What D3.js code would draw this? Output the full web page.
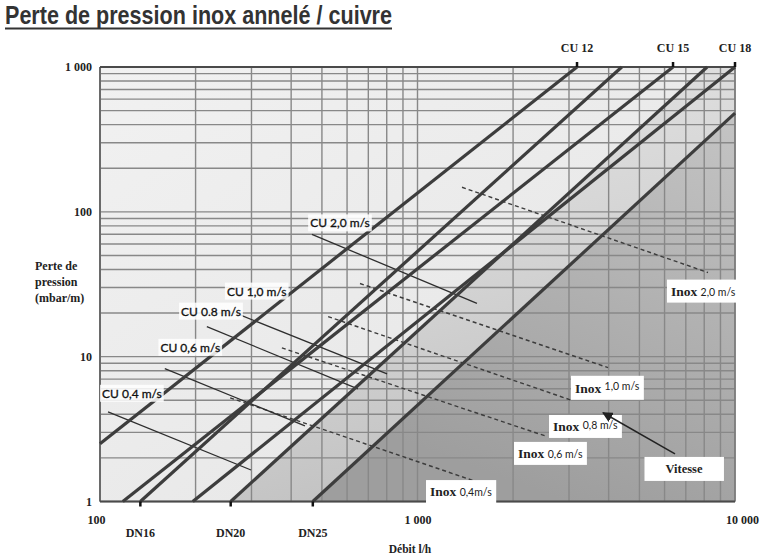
<!DOCTYPE html>
<html>
<head>
<meta charset="utf-8">
<script src="https://cdn.jsdelivr.net/npm/d3@7"></script>
<style>
  body { margin: 0; background: #ffffff; }
  svg { display: block; }
</style>
</head>
<body>
<div id="chart"></div>
<script>
'use strict'

/****** DATA ******/

const TITLE = 'Perte de pression inox annelé / cuivre'

const xTicks = [100, 1000, 10000] // Débit l/h
const yTicks = [1, 10, 100, 1000] // mbar/m

const topLabels = ['CU 12', 'CU 15', 'CU 18']
const topTickQ = [3180, 6380, 10000]
const bottomLabels = ['DN16', 'DN20', 'DN25']
const bottomTickQ = [134, 258, 468]

// pipe curves: [Q start, P start, Q end, P end]
const pipeLines = [
  [100, 2.5, 3180, 1000],   // CU 12
  [118, 1, 6380, 1000],     // CU 15
  [196, 1, 10000, 1000],    // CU 18
  [134, 1, 4400, 1000],     // DN16
  [258, 1, 8170, 1000],     // DN20
  [468, 1, 10000, 480]      // DN25
]

// copper velocity lines
const cuSpeedLabels = ['CU 0,4 m/s', 'CU 0,6 m/s', 'CU 0.8 m/s', 'CU 1,0 m/s', 'CU 2,0 m/s']
const cuSpeedLines = [
  [106, 4.16, 299, 1.65],
  [160, 8.26, 442, 3.33],
  [217, 16.1, 649, 6.0],
  [270, 19.8, 802, 7.6],
  [465, 69.9, 1539, 23.3]
]
const cuLabelAt = [[101.5, 5.2], [155, 10.8], [180, 19.2], [251, 26.4], [459, 78.1]]

// inox velocity lines (dashed)
const inoxSpeedLabels = ['0,4m/s', '0,6 m/s', '0,8 m/s', '1,0 m/s', '2,0 m/s']
const inoxSpeedLines = [
  [257, 5.2, 1754, 1.24],
  [374, 11.5, 2521, 2.84],
  [523, 18.9, 3089, 4.96],
  [659, 32.0, 3981, 8.4],
  [1381, 147.8, 8222, 38.1]
]
const inoxLabelAt = [[1095, 1.09], [2073, 2.0], [2672, 3.07], [3133, 5.63], [6286, 26.4]]

const vitesseAt = [6908, 1.575]
const vitesseArrow = [6471, 2.13, 3840, 4.10]

/****** SETUP ******/

const W = 768, H = 558
const margin = {top: 67, right: 33, bottom: 57, left: 100}
const serif = "'Liberation Serif', 'DejaVu Serif', serif"
const sans = "Lato, 'Open Sans', sans-serif"

const svg = d3.select('#chart').append('svg')
  .attr('width', W)
  .attr('height', H)

const x = d3.scaleLog().domain([100, 10000]).range([margin.left, W - margin.right])
const y = d3.scaleLog().domain([1, 1000]).range([H - margin.bottom + 0.5, margin.top])

const fmt = d => d3.format(',')(d).replace(/,/g, ' ')

// gradients
const defs = svg.append('defs')
function grad(id, x1, y1, x2, y2, stops) {
  const g = defs.append('linearGradient').attr('id', id)
    .attr('x1', x1).attr('y1', y1).attr('x2', x2).attr('y2', y2)
  stops.forEach(s => g.append('stop').attr('offset', s[0]).attr('stop-color', s[1]))
}
grad('bg', 0, 0, 1, 1, [[0, '#f1f1f1'], [1, '#e4e4e4']])
grad('mid', 0, 0, 0.3, 1, [[0, '#e6e6e6'], [0.5, '#d6d6d6'], [1, '#c2c2c2']])
grad('dark', 1, 0, 0.6, 1, [[0, '#c4c4c4'], [1, '#9e9e9e']])

/****** TITLE ******/

svg.append('text')
  .attr('x', 5)
  .attr('y', 24)
  .attr('textLength', 387)
  .attr('lengthAdjust', 'spacingAndGlyphs')
  .attr('font-family', "'Liberation Sans', Arial, sans-serif")
  .attr('font-weight', 'bold')
  .attr('font-size', 26)
  .attr('fill', '#333')
  .text(TITLE)

svg.append('line')
  .attr('x1', 5).attr('x2', 392)
  .attr('y1', 28.5).attr('y2', 28.5)
  .attr('stroke', '#333')
  .attr('stroke-width', 2)

/****** PLOT AREA ******/

const line = d3.line().x(d => x(d[0])).y(d => y(d[1]))

svg.append('rect')
  .attr('x', x(100)).attr('y', y(1000))
  .attr('width', x(10000) - x(100))
  .attr('height', y(1) - y(1000))
  .attr('fill', 'url(#bg)')

// shaded region right of DN20 and below DN25
const dn20 = pipeLines[4], dn25 = pipeLines[5]
svg.append('path')
  .attr('d', line([[dn20[0], dn20[1]], [dn20[2], dn20[3]], [10000, 1000], [10000, 1]]) + 'Z')
  .attr('fill', 'url(#mid)')
svg.append('path')
  .attr('d', line([[dn25[0], dn25[1]], [dn25[2], dn25[3]], [10000, 1]]) + 'Z')
  .attr('fill', 'url(#dark)')

// grid
const grid = svg.append('g')
  .attr('stroke', '#888')
  .attr('stroke-width', 1.4)
grid.selectAll('.gx')
  .data(x.ticks())
  .join('line')
    .attr('x1', d => x(d)).attr('x2', d => x(d))
    .attr('y1', y(1000)).attr('y2', y(1))
grid.selectAll('.gy')
  .data(y.ticks())
  .join('line')
    .attr('x1', x(100)).attr('x2', x(10000))
    .attr('y1', d => y(d)).attr('y2', d => y(d))

// frame
svg.append('line').attr('x1', x(100)).attr('x2', x(100)).attr('y1', y(1000)).attr('y2', y(1))
  .attr('stroke', '#6a6a6a').attr('stroke-width', 2)
svg.append('line').attr('x1', x(10000)).attr('x2', x(10000)).attr('y1', y(1000)).attr('y2', y(1))
  .attr('stroke', '#7a7a7a').attr('stroke-width', 1.5)
svg.append('line').attr('x1', x(100)).attr('x2', x(10000)).attr('y1', y(1000)).attr('y2', y(1000))
  .attr('stroke', '#4a4a4a').attr('stroke-width', 2)
svg.append('line').attr('x1', x(100)).attr('x2', x(10000)).attr('y1', y(1)).attr('y2', y(1))
  .attr('stroke', '#4a4a4a').attr('stroke-width', 2)

/****** VELOCITY LINES ******/

svg.append('g').selectAll('path')
  .data(inoxSpeedLines)
  .join('path')
    .attr('d', d => line([[d[0], d[1]], [d[2], d[3]]]))
    .attr('fill', 'none')
    .attr('stroke', '#3c3c3c')
    .attr('stroke-width', 1.4)
    .attr('stroke-dasharray', '4,3')

svg.append('g').selectAll('path')
  .data(cuSpeedLines)
  .join('path')
    .attr('d', d => line([[d[0], d[1]], [d[2], d[3]]]))
    .attr('fill', 'none')
    .attr('stroke', '#2e2e2e')
    .attr('stroke-width', 1.3)

/****** PIPE LINES ******/

svg.append('g').selectAll('path')
  .data(pipeLines)
  .join('path')
    .attr('d', d => line([[d[0], d[1]], [d[2], d[3]]]))
    .attr('fill', 'none')
    .attr('stroke', '#3d3d3d')
    .attr('stroke-width', 3.2)

/****** LABELS WITH BOXES ******/

function boxed(g, padX, padY, opacity) {
  const b = g.select('text').node().getBBox()
  g.insert('rect', 'text')
    .attr('x', b.x - padX).attr('y', b.y - padY)
    .attr('width', b.width + 2 * padX).attr('height', b.height + 2 * padY)
    .attr('fill', '#fff')
    .attr('fill-opacity', opacity)
}

cuSpeedLabels.forEach((lab, i) => {
  const g = svg.append('g')
  g.append('text')
    .attr('x', x(cuLabelAt[i][0]))
    .attr('y', y(cuLabelAt[i][1]))
    .attr('font-family', sans)
    .attr('font-size', 12)
    .attr('fill', '#111')
    .attr('stroke', '#111')
    .attr('stroke-width', 0.3)
    .text(lab)
  boxed(g, 2, 1, 0.85)
})

inoxSpeedLabels.forEach((lab, i) => {
  const g = svg.append('g')
  const t = g.append('text')
    .attr('x', x(inoxLabelAt[i][0]))
    .attr('y', y(inoxLabelAt[i][1]))
    .attr('fill', '#222')
  t.append('tspan')
    .attr('font-family', serif)
    .attr('font-weight', 'bold')
    .attr('font-size', 13.5)
    .text(i >= 3 ? 'Inox  ' : 'Inox ')
  t.append('tspan')
    .attr('font-family', sans)
    .attr('font-size', 10.5)
    .attr('dy', i === 3 ? -3 : i === 2 ? -2 : 0)
    .text(lab)
  boxed(g, 4, 4, 1)
})

// Vitesse box + arrow
const vg = svg.append('g')
vg.append('text')
  .attr('x', x(vitesseAt[0]))
  .attr('y', y(vitesseAt[1]))
  .attr('text-anchor', 'middle')
  .attr('font-family', serif)
  .attr('font-weight', 'bold')
  .attr('font-size', 12.5)
  .attr('fill', '#222')
  .text('Vitesse')
boxed(vg, 21, 5, 1)

defs.append('marker')
  .attr('id', 'arrow')
  .attr('viewBox', '0 0 10 10')
  .attr('refX', 9).attr('refY', 5)
  .attr('markerWidth', 7).attr('markerHeight', 7)
  .attr('orient', 'auto')
  .append('path')
    .attr('d', 'M0,0 L10,5 L0,10 Z')
    .attr('fill', '#222')

svg.append('path')
  .attr('d', line([[vitesseArrow[0], vitesseArrow[1]], [vitesseArrow[2], vitesseArrow[3]]]))
  .attr('stroke', '#222')
  .attr('stroke-width', 1.5)
  .attr('marker-end', 'url(#arrow)')

/****** AXES ******/

const yAxis = svg.append('g')
  .attr('transform', `translate(${x(100)},0)`)
  .call(d3.axisLeft(y).tickValues(yTicks).tickFormat(fmt).tickSize(0).tickPadding(8))
yAxis.select('.domain').remove()

const xAxis = svg.append('g')
  .attr('transform', `translate(0,${y(1)})`)
  .call(d3.axisBottom(x).tickValues(xTicks).tickFormat(fmt).tickSize(0).tickPadding(14))
xAxis.select('.domain').remove()
xAxis.selectAll('.tick text').filter(d => d === 10000).attr('dx', 7)
xAxis.selectAll('.tick text').filter(d => d === 100).attr('dx', -4)

svg.selectAll('.tick text')
  .attr('font-family', serif)
  .attr('font-weight', 'bold')
  .attr('font-size', 12)
  .attr('fill', '#222')

// top markers (CU)
topTickQ.forEach((q, i) => {
  svg.append('line')
    .attr('x1', x(q)).attr('x2', x(q))
    .attr('y1', y(1000) - 5).attr('y2', y(1000))
    .attr('stroke', '#111').attr('stroke-width', 2.5)
  svg.append('text')
    .attr('x', x(q)).attr('y', 52)
    .attr('text-anchor', 'middle')
    .attr('font-family', serif).attr('font-weight', 'bold').attr('font-size', 12)
    .attr('fill', '#222')
    .text(topLabels[i])
})

// bottom markers (DN)
bottomTickQ.forEach((q, i) => {
  svg.append('line')
    .attr('x1', x(q)).attr('x2', x(q))
    .attr('y1', y(1)).attr('y2', y(1) + 5)
    .attr('stroke', '#111').attr('stroke-width', 2.5)
  svg.append('text')
    .attr('x', x(q)).attr('y', 537)
    .attr('text-anchor', 'middle')
    .attr('font-family', serif).attr('font-weight', 'bold').attr('font-size', 12)
    .attr('fill', '#222')
    .text(bottomLabels[i])
})

// axis titles
svg.append('text')
  .attr('x', 410).attr('y', 553)
  .attr('text-anchor', 'middle')
  .attr('font-family', serif).attr('font-weight', 'bold').attr('font-size', 11.5)
  .attr('fill', '#222')
  .text('Débit l/h')

const ylab = svg.append('text')
  .attr('font-family', serif).attr('font-weight', 'bold').attr('font-size', 12)
  .attr('fill', '#222')
;['Perte de', 'pression', '(mbar/m)'].forEach((s, i) => {
  ylab.append('tspan').attr('x', 35).attr('y', 270 + i * 16).text(s)
})
</script>
</body>
</html>
